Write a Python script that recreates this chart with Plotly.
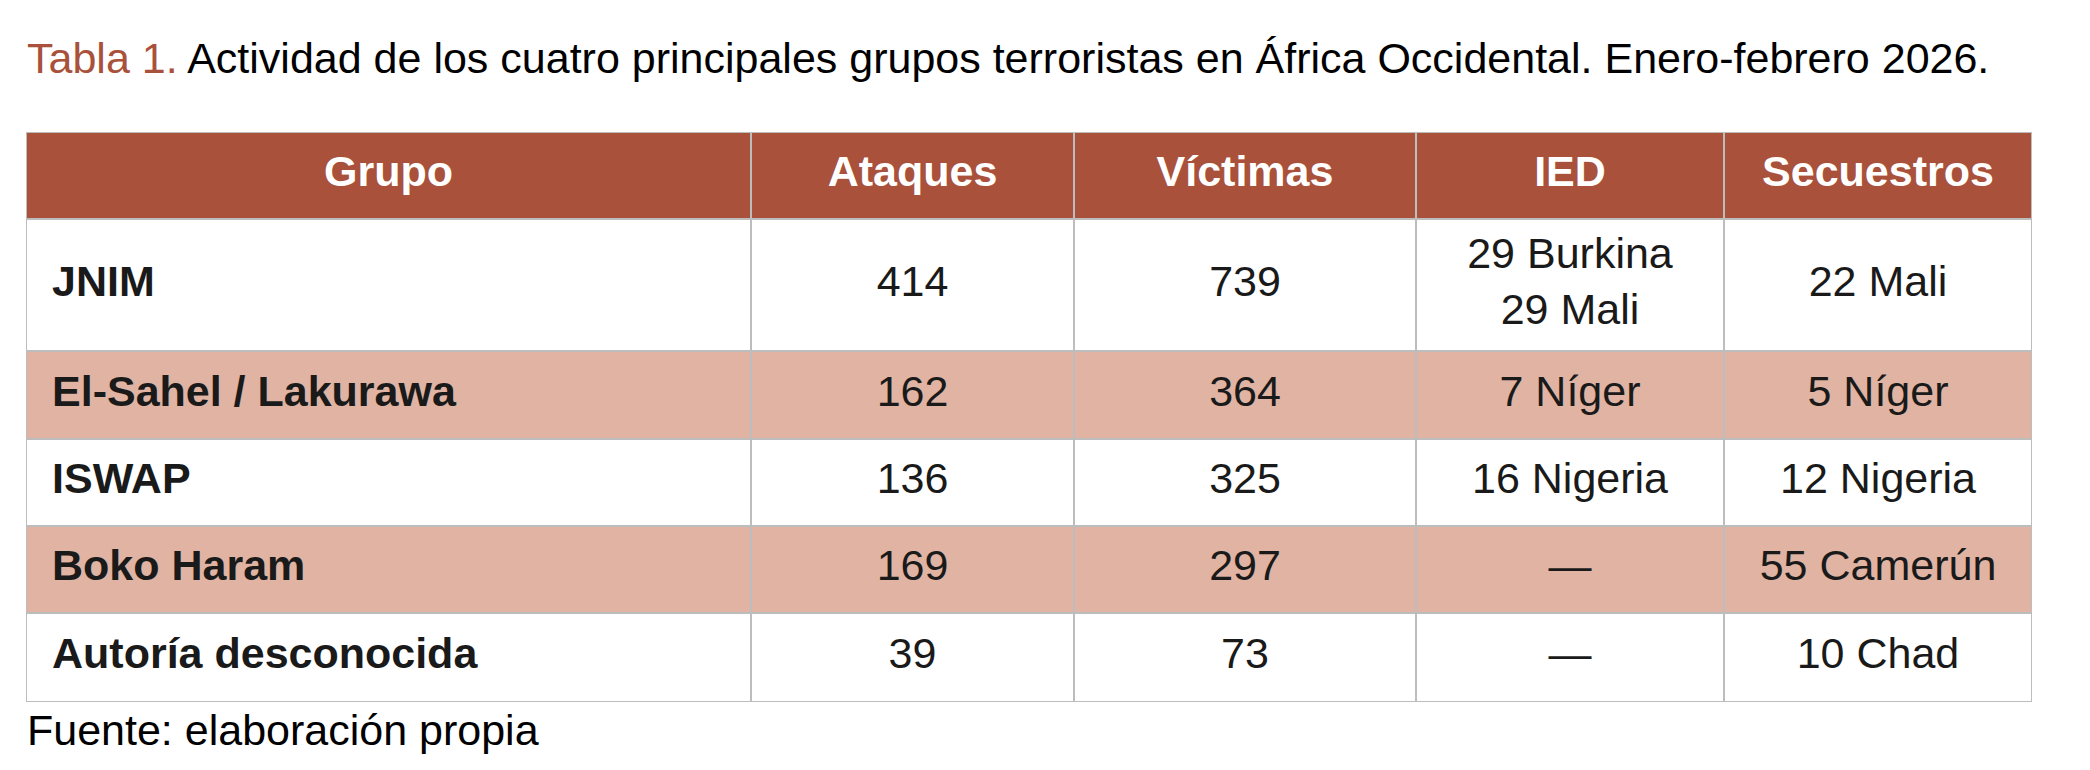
import plotly.graph_objects as go

# ---- data ----
columnas = ["Grupo", "Ataques", "Víctimas", "IED", "Secuestros"]
grupos = ["JNIM", "El-Sahel / Lakurawa", "ISWAP", "Boko Haram", "Autoría desconocida"]
ataques = [414, 162, 136, 169, 39]
victimas = [739, 364, 325, 297, 73]
ied = [["29 Burkina", "29 Mali"], ["7 Níger"], ["16 Nigeria"], ["—"], ["—"]]
secuestros = ["22 Mali", "5 Níger", "12 Nigeria", "55 Camerún", "10 Chad"]

titulo_num = "Tabla 1."
titulo = "Actividad de los cuatro principales grupos terroristas en África Occidental. Enero-febrero 2026."
fuente = "Fuente: elaboración propia"

# ---- styles / layout sizes ----
W, H = 2090, 770
FONT = "Liberation Sans, Arial, Helvetica, sans-serif"
FS = 43
HEADER_BG = "#A9513A"
ALT_BG = "#E0B3A2"
WHITE_BG = "#FFFFFF"
BORDER = "#BDBDBD"
TEXT = "#1A1A1A"

col_widths = [725, 323, 342, 308, 308]
row_heights = [87, 132, 88, 87, 87, 89]   # header + 5 rows
table_left, table_top = 26, 132
pad_left = 26

# cumulative edges
x_edges = [0]
for w in col_widths:
    x_edges.append(x_edges[-1] + w)
y_edges = [0]
for h in row_heights:
    y_edges.append(y_edges[-1] + h)
TW, TH = x_edges[-1], y_edges[-1]
x_mid = [(x_edges[i] + x_edges[i + 1]) / 2 for i in range(len(col_widths))]
y_mid = [(y_edges[i] + y_edges[i + 1]) / 2 for i in range(len(row_heights))]

# fill codes: 0 header, 1 white, 2 shaded
n_rows = len(grupos)
z = [[0] * len(columnas)]
for r in range(n_rows):
    z.append([1 if r % 2 == 0 else 2] * len(columnas))

colorscale = [
    [0.0, HEADER_BG], [0.3333, HEADER_BG],
    [0.3334, WHITE_BG], [0.6666, WHITE_BG],
    [0.6667, ALT_BG], [1.0, ALT_BG],
]

fig = go.Figure()
fig.add_trace(go.Heatmap(
    x=x_edges, y=y_edges, z=z, zmin=0, zmax=2,
    colorscale=colorscale, showscale=False,
    xgap=2, ygap=2, hoverinfo="skip",
))

# header text
fig.add_trace(go.Scatter(
    x=x_mid, y=[y_mid[0]] * len(columnas), mode="text",
    text=[f"<b>{c}</b>" for c in columnas], textposition="middle center",
    textfont=dict(family=FONT, size=FS, color="#FFFFFF"),
    hoverinfo="skip", showlegend=False, cliponaxis=False,
))

# group names (left aligned, bold)
fig.add_trace(go.Scatter(
    x=[pad_left] * n_rows, y=y_mid[1:], mode="text",
    text=[f"<b>{g}</b>" for g in grupos], textposition="middle right",
    textfont=dict(family=FONT, size=FS, color=TEXT),
    hoverinfo="skip", showlegend=False, cliponaxis=False,
))

# numeric / text columns (centered)
body_cols = [
    [str(v) for v in ataques],
    [str(v) for v in victimas],
    ["<br>".join(v) for v in ied],
    secuestros,
]
bx, by, bt = [], [], []
for ci, col in enumerate(body_cols, start=1):
    for ri, val in enumerate(col):
        bx.append(x_mid[ci])
        by.append(y_mid[ri + 1])
        bt.append(val)
fig.add_trace(go.Scatter(
    x=bx, y=by, mode="text", text=bt, textposition="middle center",
    textfont=dict(family=FONT, size=FS, color=TEXT),
    hoverinfo="skip", showlegend=False, cliponaxis=False,
))

fig.update_layout(
    width=W, height=H,
    margin=dict(l=0, r=0, t=0, b=0),
    paper_bgcolor="#FFFFFF",
    plot_bgcolor=BORDER,
    showlegend=False,
    xaxis=dict(
        domain=[table_left / W, (table_left + TW) / W],
        range=[0, TW], showgrid=False, zeroline=False,
        showticklabels=False, ticks="", fixedrange=True,
    ),
    yaxis=dict(
        domain=[1 - (table_top + TH) / H, 1 - table_top / H],
        range=[TH, 0], showgrid=False, zeroline=False,
        showticklabels=False, ticks="", fixedrange=True,
    ),
    annotations=[
        dict(
            xref="paper", yref="paper", x=25 / W, y=1 - 57.5 / H,
            xanchor="left", yanchor="middle", showarrow=False,
            text=f"<span style='color:{HEADER_BG}'>{titulo_num}</span> {titulo}",
            font=dict(family=FONT, size=FS, color="#000000"),
        ),
        dict(
            xref="paper", yref="paper", x=25 / W, y=1 - 729.5 / H,
            xanchor="left", yanchor="middle", showarrow=False,
            text=fuente,
            font=dict(family=FONT, size=FS, color="#000000"),
        ),
    ],
)

fig.write_html(
    "out.html",
    config={"displayModeBar": False, "staticPlot": True},
    post_script="document.body.style.margin='0';document.body.style.overflow='hidden';",
)
